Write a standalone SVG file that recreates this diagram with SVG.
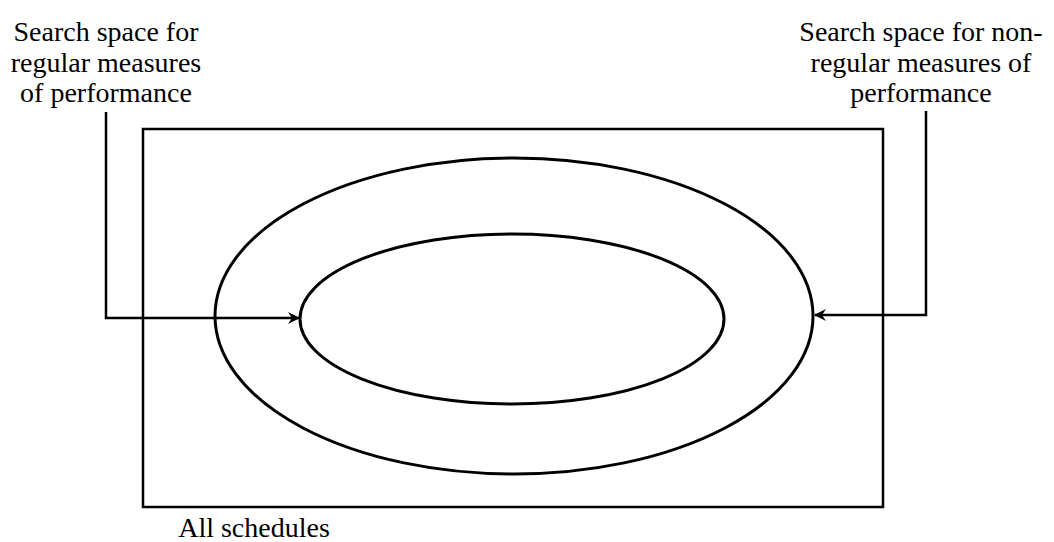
<svg xmlns="http://www.w3.org/2000/svg" width="1054" height="542" viewBox="0 0 1054 542">
<style>
text{font-family:"Liberation Serif","Times New Roman",serif;font-size:28px;fill:#000;text-anchor:middle}
.shape{fill:none;stroke:#000}
.conn{fill:none;stroke:#000;stroke-width:2.5}
</style>
<defs>
<marker id="arr" viewBox="0 0 12 12" refX="11" refY="6" markerWidth="12" markerHeight="12" markerUnits="userSpaceOnUse" orient="auto">
<path d="M0,0 L12,6 L0,12 L4,6 Z" fill="#000"/>
</marker>
</defs>
<rect width="1054" height="542" fill="#fff"/>
<g id="all-schedules">
<rect class="shape" x="143" y="129" width="740" height="378" stroke-width="2.5"/>
<text x="254" y="537">All schedules</text>
</g>
<g id="outer-ellipse">
<ellipse class="shape" cx="514" cy="316" rx="299" ry="158" stroke-width="3"/>
</g>
<g id="inner-ellipse">
<ellipse class="shape" cx="512" cy="319" rx="212" ry="85" stroke-width="3"/>
</g>
<g id="label-regular">
<text x="106" y="41">Search space for</text>
<text x="106" y="72">regular measures</text>
<text x="106" y="102">of performance</text>
</g>
<g id="label-nonregular">
<text x="921" y="41">Search space for non-</text>
<text x="921" y="72">regular measures of</text>
<text x="921" y="102">performance</text>
</g>
<g id="connectors">
<polyline class="conn" points="106,112 106,318 299,318" marker-end="url(#arr)"/>
<polyline class="conn" points="926,111 926,315 815,315" marker-end="url(#arr)"/>
</g>
</svg>
